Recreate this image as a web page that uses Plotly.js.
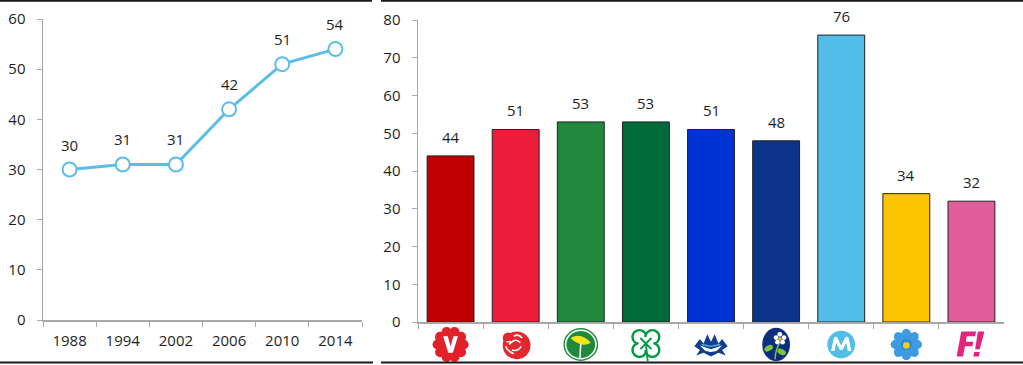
<!DOCTYPE html>
<html>
<head>
<meta charset="utf-8">
<script src="https://cdn.plot.ly/plotly-3.0.1.min.js"></script>
<style>html,body{margin:0;padding:0;background:#fff;}#chart{width:1023px;height:365px;}</style>
</head>
<body>
<div id="chart"></div>
<script>
// ---- data ----
const years = ['1988', '1994', '2002', '2006', '2010', '2014'];
const yearValues = [30, 31, 31, 42, 51, 54];
const parties = ['V', 'S', 'MP', 'C', 'L', 'KD', 'M', 'SD', 'FI'];
const partyValues = [44, 51, 53, 53, 51, 48, 76, 34, 32];
const leftTicks = [0, 10, 20, 30, 40, 50, 60];
const rightTicks = [0, 10, 20, 30, 40, 50, 60, 70, 80];

// ---- styles ----
const partyColors = ['#c00000', '#ed1c3a', '#22883e', '#006b39', '#0033d4', '#0d348b', '#53bde9', '#fdc400', '#e15e9b'];
const lineColor = '#5bbde8';
const txt = '#1e1e1e';
const axisCol = '#a8a8a8';
const font = {family: 'Open Sans, sans-serif', size: 15, color: txt};

// ---- logos (decorative svg) ----
function svgUri(s) {
  return 'data:image/svg+xml;charset=utf-8,' + encodeURIComponent('<svg xmlns="http://www.w3.org/2000/svg" viewBox="0 0 40 40" width="40" height="40">' + s + '</svg>');
}
const logos = {
  V: svgUri('<g fill="#e3202a">' + Array.from({length: 10}, (_, i) => {
        const a = i * Math.PI / 5; return '<circle cx="' + (20 + 14 * Math.cos(a)).toFixed(1) + '" cy="' + (20 + 14 * Math.sin(a)).toFixed(1) + '" r="5.5"/>';
      }).join('') + '<circle cx="20" cy="20" r="16"/></g><path d="M12 11 L17 11 L20 22 L23 11 L28 11 L22.5 29 L17.5 29 Z" fill="#fff"/>'),
  S: svgUri('<circle cx="21" cy="21" r="15" fill="#e4262d"/><circle cx="12" cy="13" r="6" fill="#e4262d"/><path d="M13 20 q6 -8 12 -2 M16 26 q6 2 10 -4 M18 11 q5 -3 9 2 M9 22 q3 6 9 8" stroke="#fff" stroke-width="1.8" fill="none"/><path d="M10 17 l5 0" stroke="#fff" stroke-width="1.5"/>'),
  MP: svgUri('<ellipse cx="20" cy="20" rx="18" ry="17" fill="#fff" stroke="#1f8a3b" stroke-width="1.5"/><ellipse cx="20" cy="20" rx="15.5" ry="14.5" fill="#1f8a3b"/><path d="M9 13 Q20 6 31 18 Q24 22 18 19 Q12 17 9 13 Z" fill="#f5e31b"/><path d="M20 19 L19 35" stroke="#fff" stroke-width="1.6"/>'),
  C: svgUri('<g fill="#fff" stroke="#009a44" stroke-width="2.6"><circle cx="13" cy="12" r="7.5"/><circle cx="27" cy="12" r="7.5"/><circle cx="13" cy="26" r="7.5"/><circle cx="27" cy="26" r="7.5"/></g><rect x="12" y="12" width="16" height="14" fill="#fff"/><path d="M14 13 L26 25 M26 13 L14 25 M20 19 L22 38" stroke="#009a44" stroke-width="2" fill="none"/>'),
  L: svgUri('<path d="M2 22 L8 14 L12 19 L16 9 L20 17 L24 9 L28 19 L32 14 L38 22 L32 26 L36 32 L28 29 L20 33 L12 29 L4 32 L8 26 Z" fill="#123f8c"/><path d="M8 21 L20 25 L32 21 L26 27 L20 28 L14 27 Z" fill="#fff"/><path d="M10 20 L20 22 L30 20" stroke="#5aaee6" stroke-width="1.5" fill="none"/>'),
  KD: svgUri('<ellipse cx="20" cy="20" rx="15" ry="18" fill="#0c2f7d"/><g fill="#fff"><circle cx="24" cy="9" r="2.6"/><circle cx="28.5" cy="12.5" r="2.6"/><circle cx="27" cy="17.5" r="2.6"/><circle cx="21.5" cy="17.5" r="2.6"/><circle cx="20" cy="12.5" r="2.6"/></g><circle cx="24.2" cy="14" r="1.8" fill="#f3d21c"/><path d="M24 18 Q19 26 19 36" stroke="#7bc143" stroke-width="1.6" fill="none"/><ellipse cx="12" cy="24" rx="5" ry="3" fill="#7bc143" transform="rotate(-30 12 24)"/><ellipse cx="26" cy="28" rx="5" ry="3" fill="#7bc143" transform="rotate(25 26 28)"/>'),
  M: svgUri('<circle cx="20" cy="20" r="15" fill="#53bde9"/><path d="M9 27 L12 13 Q14 10 16 13 L20 21 L24 13 Q26 10 28 13 L31 27 L27 27 L25.5 18 L21.5 26 L18.5 26 L14.5 18 L13 27 Z" fill="#fff"/>'),
  SD: svgUri('<g fill="#3d9be3">' + Array.from({length: 8}, (_, i) => {
        const a = i * Math.PI / 4; return '<ellipse cx="' + (20 + 10 * Math.cos(a)).toFixed(1) + '" cy="' + (20 + 10 * Math.sin(a)).toFixed(1) + '" rx="7" ry="5.5" transform="rotate(' + (i * 45) + ' ' + (20 + 10 * Math.cos(a)).toFixed(1) + ' ' + (20 + 10 * Math.sin(a)).toFixed(1) + ')"/>';
      }).join('') + '</g><circle cx="20" cy="20" r="6" fill="#2f86d8"/><circle cx="20" cy="21" r="3.6" fill="#f7d000"/>'),
  FI: svgUri('<path d="M9 6 L25 6 L24 11 L15 11 L14 17 L22 17 L21 22 L13 22 L11 33 L4 33 Z" fill="#e2247f"/><path d="M27 6 L34 6 L29 25 L24 25 Z" fill="#e2247f"/><path d="M23 28 L29 28 L28 33 L22 33 Z" fill="#e2247f"/>')
};

// ---- traces ----
const traces = [
  {
    type: 'scatter', mode: 'lines+markers', x: years, y: yearValues,
    xaxis: 'x', yaxis: 'y',
    line: {color: lineColor, width: 3},
    marker: {symbol: 'circle', size: 14, color: '#ffffff', line: {color: lineColor, width: 2}},
    cliponaxis: false, hoverinfo: 'x+y'
  },
  {
    type: 'bar', x: parties, y: partyValues,
    xaxis: 'x2', yaxis: 'y2', width: 0.72,
    marker: {color: partyColors, line: {color: '#222222', width: 1}},
    hoverinfo: 'x+y'
  }
];

// annotation/image x positions use the category index on category axes
const annotations = [];
years.forEach((yr, i) => annotations.push({
  xref: 'x', yref: 'y', x: i, y: yearValues[i], text: String(yearValues[i]),
  showarrow: false, yanchor: 'bottom', yshift: 13, font: font
}));
parties.forEach((p, i) => annotations.push({
  xref: 'x2', yref: 'y2', x: i, y: partyValues[i], text: String(partyValues[i]),
  showarrow: false, yanchor: 'bottom', yshift: 7, font: font
}));

const images = parties.map((p, i) => ({
  source: logos[p], xref: 'x2', yref: 'paper', x: i, y: 1 - 326 / 365,
  xanchor: 'center', yanchor: 'top', sizex: 0.58, sizey: 37 / 365, sizing: 'contain', layer: 'above'
}));

function yax(domain, range, ticks, anchor) {
  return {
    domain: domain, range: range, anchor: anchor, tickvals: ticks, ticktext: ticks.map(String),
    showline: true, linecolor: axisCol, linewidth: 1.5, ticks: 'outside', ticklen: 5, tickcolor: axisCol,
    showgrid: false, zeroline: false, tickfont: font, ticklabelstandoff: 8, fixedrange: true
  };
}
function xax(domain, anchor, n, showlabels) {
  return {
    domain: domain, anchor: anchor, type: 'category', range: [-0.5, n - 0.5], tickson: 'boundaries',
    showline: true, linecolor: axisCol, linewidth: 1.5, ticks: 'outside', ticklen: 5, tickcolor: axisCol,
    showgrid: false, zeroline: false, tickfont: font, tickangle: 0, showticklabels: showlabels,
    ticklabelstandoff: 6, fixedrange: true
  };
}

const W = 1023, H = 365;
const px = v => v / W, py = v => 1 - v / H;

const layout = {
  width: W, height: H,
  margin: {l: 0, r: 0, t: 0, b: 0},
  paper_bgcolor: '#ffffff', plot_bgcolor: '#ffffff',
  showlegend: false, font: font,
  xaxis: xax([px(43), px(362)], 'y', years.length, true),
  yaxis: yax([py(320), py(19)], [0, 60], leftTicks, 'x'),
  xaxis2: xax([px(418), px(1004)], 'y2', parties.length, false),
  yaxis2: yax([py(322), py(20)], [0, 80], rightTicks, 'x2'),
  annotations: annotations,
  images: images,
  shapes: [
    {type: 'line', xref: 'paper', yref: 'paper', x0: 0, x1: px(372), y0: py(0.8), y1: py(0.8), line: {color: '#1a1a1a', width: 2}},
    {type: 'line', xref: 'paper', yref: 'paper', x0: px(381), x1: 1, y0: py(0.8), y1: py(0.8), line: {color: '#1a1a1a', width: 2}},
    {type: 'line', xref: 'paper', yref: 'paper', x0: 0, x1: px(373), y0: py(362.5), y1: py(362.5), line: {color: '#1a1a1a', width: 2}},
    {type: 'line', xref: 'paper', yref: 'paper', x0: px(381), x1: 1, y0: py(362.5), y1: py(362.5), line: {color: '#1a1a1a', width: 2}}
  ]
};

Plotly.newPlot('chart', traces, layout, {displayModeBar: false, staticPlot: true});
</script>
</body>
</html>
